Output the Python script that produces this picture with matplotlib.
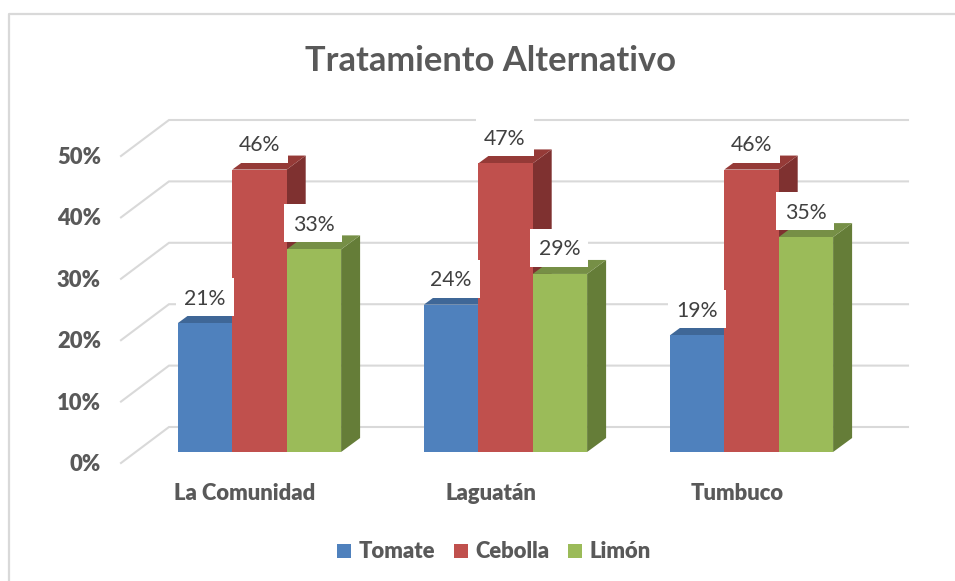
import matplotlib
matplotlib.use('Agg')
import matplotlib.pyplot as plt
from matplotlib.lines import Line2D
from matplotlib.patches import Patch, Rectangle

# Datos del grafico
categorias = ['La Comunidad', 'Laguatán', 'Tumbuco']
series = ['Tomate', 'Cebolla', 'Limón']
tomate = [21, 24, 19]
cebolla = [46, 47, 46]
limon = [33, 29, 35]
valores_eje = [0, 10, 20, 30, 40, 50]

colores = ['#4F81BD', '#C0504D', '#9BBB59']
lados = ['#3A5F8A', '#7F3130', '#657D38']
techos = ['#3F6797', '#953A37', '#768F46']
gris = '#595959'

plt.rcParams['font.family'] = ['Lato', 'DejaVu Sans']

W, H = 955, 581
fig = plt.figure(figsize=(W / 100, H / 100), dpi=100, facecolor='white')
ax = fig.add_axes([0, 0, 1, 1])

# escalas: una categoria = 246 px, 1% = 6.14 px
px_x = 1 / 246
px_y = 1 / 6.14
ax.set_xlim(-259.5 * px_x, (W - 259.5) * px_x)
ax.set_ylim(-(H - 452) * px_y, 452 * px_y)
ax.axis('off')

ancho = 54.4 * px_x
fondo_x = 19 * px_x
fondo_y = 14 * px_y

# marco
fig.add_artist(Line2D([9 / W, 9 / W, 1], [0, 1 - 14 / H, 1 - 14 / H], color='#D9D9D9', lw=1.6))

# rejilla
x_ini = -138.5 * px_x
x_fin = (908 - 259.5) * px_x
x_pared = -90.5 * px_x
for v in valores_eje:
    ax.plot([x_ini, x_pared, x_fin], [v - 11 * px_y, v + 25 * px_y, v + 25 * px_y],
            color='#D9D9D9', lw=1.5, zorder=1, solid_joinstyle='miter')
    ax.text(101 * px_x - 259.5 * px_x, v - 12.5 * px_y, f'{v}%', ha='right', va='center',
            fontsize=15.8, fontweight='heavy', color=gris)

# barras
datos = [tomate, cebolla, limon]
desplaza = [-ancho, 0, ancho]
z = 3
for i in range(len(categorias)):
    for s in range(len(series)):
        v = datos[s][i]
        x0 = i + desplaza[s] - ancho / 2
        x1 = x0 + ancho
        ax.fill([x1, x1 + fondo_x, x1 + fondo_x, x1], [0, fondo_y, v + fondo_y, v],
                color=lados[s], lw=0, zorder=z)
        ax.fill([x0, x0 + fondo_x, x1 + fondo_x, x1], [v, v + fondo_y, v + fondo_y, v],
                color=techos[s], lw=0, zorder=z)
        ax.bar(i + desplaza[s], v, width=ancho, color=colores[s], lw=0, zorder=z + 1)
        z += 2

# etiquetas con fondo blanco
for i in range(len(categorias)):
    for s in range(len(series)):
        v = datos[s][i]
        xc = i + desplaza[s] - 0.5 * px_x
        yc = v + 26 * px_y
        ax.add_patch(Rectangle((xc - 29 * px_x, yc - 19 * px_y), 58 * px_x, 38 * px_y,
                               facecolor='white', edgecolor='none', zorder=50))
        ax.text(xc, yc - 1.5 * px_y, f'{v}%', ha='center', va='center', fontsize=15.3,
                color='#404040', zorder=51)

for i, c in enumerate(categorias):
    ax.text(i - 14.5 * px_x, -42 * px_y, c, ha='center', va='center',
            fontsize=15.8, fontweight='heavy', color=gris)

ax.text(490 * px_x - 259.5 * px_x, (452 - 61) * px_y, 'Tratamiento Alternativo', ha='center',
        va='center', fontsize=24.8, fontweight='bold', color=gris)

handles = [Patch(facecolor=colores[s], edgecolor='none', label=series[s]) for s in range(3)]
fig.legend(handles=handles, loc='center', bbox_to_anchor=(494 / W, 1 - 552 / H), ncol=3,
           frameon=False, handlelength=0.64, handleheight=0.64,
           handletextpad=0.35, columnspacing=0.84, labelcolor=gris,
           prop={'weight': 'heavy', 'size': 15.8})

fig.savefig('out.png', dpi=100)
